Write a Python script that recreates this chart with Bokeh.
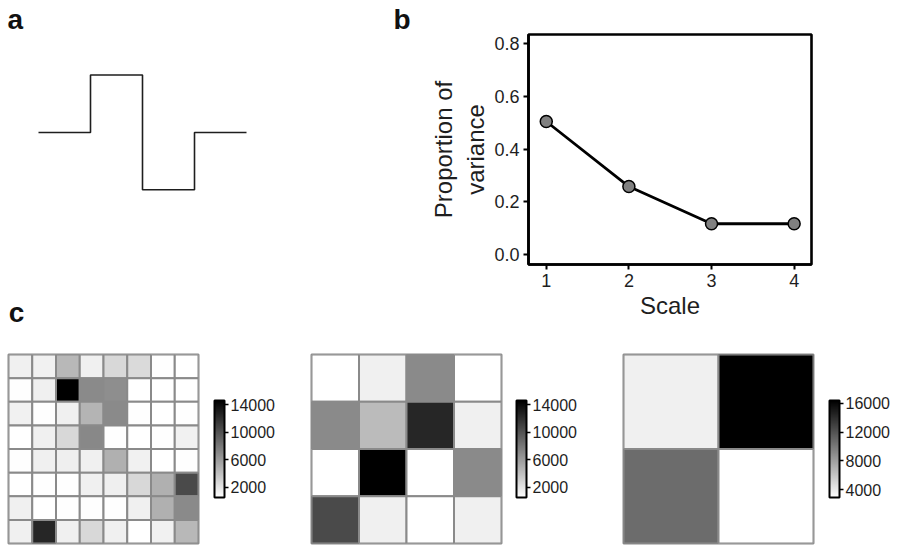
import numpy as np
from bokeh.plotting import figure
from bokeh.models import (Range1d, LinearColorMapper, ColorBar, FixedTicker,
                          NumeralTickFormatter, ColumnDataSource)
from bokeh.layouts import row, column
from bokeh.embed import file_html
from bokeh.resources import INLINE
from bokeh.palettes import Greys256

FONT = "Liberation Sans"
INK = "#1e1e1e"

# ---- panel a: Haar-like step function ----
haar_x = [0, 1, 2, 3, 4]
haar_y = [0, 1, -1, 0, 0]

# ---- panel b: proportion of variance per scale ----
scales = [1, 2, 3, 4]
prop_var = [0.505, 0.258, 0.117, 0.117]
b_yticks = [0.0, 0.2, 0.4, 0.6, 0.8]
b_xticks = [1, 2, 3, 4]

# ---- panel c: heatmaps (rows listed top to bottom) ----
heat8 = [
    [1400, 1350, 4500, 1400, 2700, 2600, 620, 600],
    [650, 1400, 14600, 7000, 6800, 600, 580, 600],
    [1350, 620, 1400, 4700, 7000, 640, 600, 610],
    [600, 1400, 2700, 7100, 650, 600, 620, 1350],
    [610, 1400, 1450, 1400, 4900, 1350, 600, 640],
    [600, 620, 650, 1400, 1450, 2700, 4900, 10500],
    [1400, 600, 630, 610, 620, 1400, 4900, 7000],
    [1400, 12500, 1400, 2700, 1400, 550, 1350, 4500],
]
heat4 = [
    [600, 1400, 7000, 600],
    [7000, 4300, 12500, 1400],
    [570, 14600, 550, 7000],
    [10500, 1400, 600, 1400],
]
heat2 = [
    [3700, 16400],
    [10700, 2900],
]
cb_ticks_8 = [2000, 6000, 10000, 14000]
cb_ticks_4 = [2000, 6000, 10000, 14000]
cb_ticks_2 = [4000, 8000, 12000, 16000]

TOP_H = 330
BOT_H = 215
TOP_B = 34
BOT_B = 64


def style_title(p, offset):
    t = p.title
    t.text_font = FONT
    t.text_font_size = "28px"
    t.text_font_style = "bold"
    t.text_color = "#111111"
    t.align = "left"
    t.offset = offset
    t.standoff = 0
    t.vertical_align = "bottom"


# panel a
pa = figure(title="a", width=372, height=TOP_H, x_range=Range1d(-0.423, 6.423),
            y_range=Range1d(-2.302, 1.707), y_axis_location=None,
            min_border_left=16, min_border_right=0, min_border_top=TOP_B, min_border_bottom=BOT_B,
            output_backend="svg", toolbar_location=None)
style_title(pa, -9)
pa.xgrid.grid_line_color = None
pa.ygrid.grid_line_color = None
pa.outline_line_color = None
pa.step(haar_x, haar_y, mode="after", line_color=INK, line_width=1.6)
xa = pa.xaxis[0]
xa.ticker = FixedTicker(ticks=[])
xa.axis_line_color = None
xa.major_tick_line_color = None
xa.minor_tick_line_color = None
xa.major_tick_in = 0
xa.major_tick_out = 0
xa.minor_tick_in = 0
xa.minor_tick_out = 0
xa.major_label_standoff = 0
xa.axis_label = "c"
xa.axis_label_align = "start"
xa.axis_label_standoff = 32
xa.axis_label_text_font = FONT
xa.axis_label_text_font_size = "28px"
xa.axis_label_text_font_style = "bold"
xa.axis_label_text_color = "#111111"

# panel b
pb = figure(title="b", width=526, height=TOP_H, x_range=Range1d(0.785, 4.21),
            y_range=Range1d(-0.0376, 0.835),
            min_border_left=156, min_border_right=87, min_border_top=TOP_B, min_border_bottom=BOT_B,
            output_backend="svg", toolbar_location=None)
style_title(pb, -135)
pb.xgrid.grid_line_color = None
pb.ygrid.grid_line_color = None
pb.outline_line_color = "black"
pb.outline_line_width = 2.6
pb.line(scales, prop_var, line_color="black", line_width=2.8)
pb.scatter(scales, prop_var, size=12, fill_color="#808080", line_color="black", line_width=1.5)
pb.xaxis.ticker = FixedTicker(ticks=b_xticks)
pb.yaxis.ticker = FixedTicker(ticks=b_yticks)
pb.yaxis.formatter = NumeralTickFormatter(format="0.0")
pb.xaxis.axis_label = "Scale"
pb.yaxis.axis_label = "Proportion of\nvariance"
for ax in (pb.xaxis[0], pb.yaxis[0]):
    ax.axis_line_color = "black"
    ax.axis_line_width = 2.6
    ax.major_tick_line_color = "black"
    ax.major_tick_line_width = 2
    ax.major_tick_in = 0
    ax.major_tick_out = 5
    ax.minor_tick_line_color = None
    ax.major_label_text_font = FONT
    ax.major_label_text_font_size = "18px"
    ax.major_label_text_color = INK
    ax.major_label_standoff = 4
    ax.axis_label_text_font = FONT
    ax.axis_label_text_font_size = "24px"
    ax.axis_label_text_font_style = "normal"
    ax.axis_label_text_color = INK
    ax.axis_label_standoff = 2


def heat_fig(data, ticks, width, border_left, cb_offset):
    arr = np.array(data, dtype=float)
    n = arr.shape[0]
    cols, rows = np.meshgrid(np.arange(n), np.arange(n))
    src = ColumnDataSource(dict(x=cols.ravel() + 0.5, y=n - rows.ravel() - 0.5, v=arr.ravel()))
    mapper = LinearColorMapper(palette=list(reversed(Greys256)), low=arr.min(), high=arr.max())
    frame_w = 190
    p = figure(width=width, height=BOT_H, x_range=Range1d(0, n), y_range=Range1d(0, n),
               min_border_left=border_left, min_border_right=width - border_left - frame_w,
               min_border_top=24, min_border_bottom=2,
               x_axis_location=None, y_axis_location=None,
               output_backend="svg", toolbar_location=None)
    p.xgrid.grid_line_color = None
    p.ygrid.grid_line_color = None
    p.rect(x="x", y="y", width=1, height=1, source=src,
           fill_color={"field": "v", "transform": mapper},
           line_color="#8a8a8a", line_width=2)
    p.outline_line_color = "#8a8a8a"
    p.outline_line_width = 2
    cb = ColorBar(color_mapper=mapper, ticker=FixedTicker(ticks=ticks),
                  location=(cb_offset, 46), width=10, height=97, padding=0, margin=0,
                  bar_line_color="black", bar_line_width=2,
                  major_tick_line_color="black", major_tick_line_width=1.5,
                  major_tick_in=0, major_tick_out=4, minor_tick_line_color=None,
                  label_standoff=2, major_label_text_font=FONT,
                  major_label_text_font_size="16px", major_label_text_color=INK,
                  background_fill_color=None, border_line_color=None)
    p.add_layout(cb, "right")
    return p


c1 = heat_fig(heat8, cb_ticks_8, 300, 8, 16)
c2 = heat_fig(heat4, cb_ticks_4, 300, 11, 15)
c3 = heat_fig(heat2, cb_ticks_2, 298, 23, 16)

layout = column(row(pa, pb), row(c1, c2, c3))

with open("out.html", "w") as f:
    f.write(file_html(layout, INLINE))
